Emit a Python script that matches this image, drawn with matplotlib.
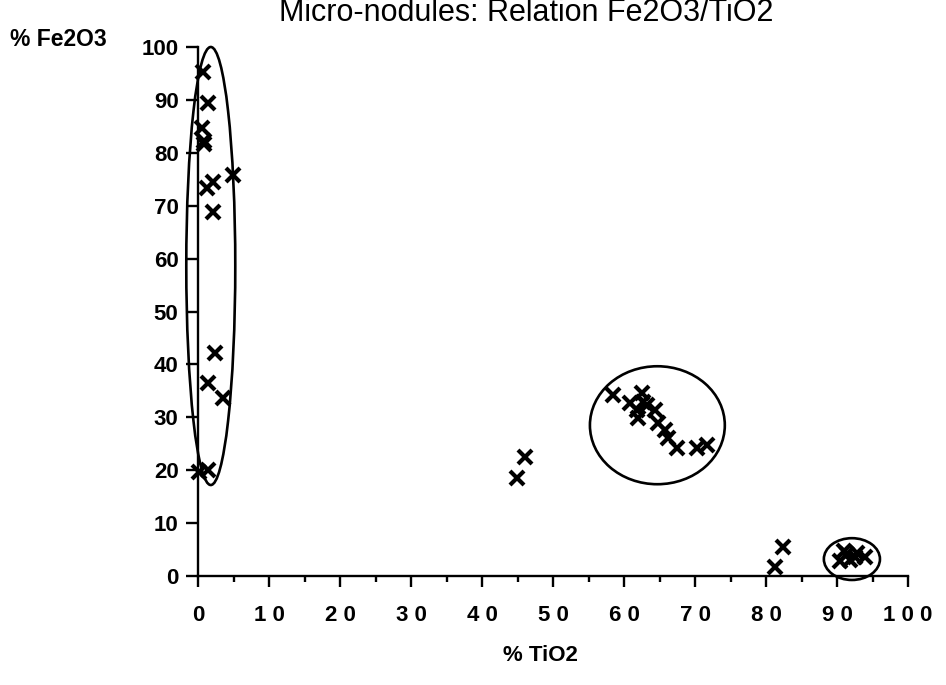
import matplotlib
matplotlib.use("Agg")
import matplotlib.pyplot as plt
from matplotlib.patches import Ellipse
from matplotlib.ticker import MultipleLocator, FixedLocator

plt.rcParams['font.family'] = ['Liberation Sans', 'DejaVu Sans']

# Fe-rich group (low TiO2)
fe_tio2 = [0.7, 1.4, 0.6, 0.9, 0.8, 2.1, 1.2, 4.9, 2.1, 2.4, 1.4, 3.5, 0.1, 1.4]
fe_fe2o3 = [95.3, 89.4, 84.7, 82.3, 81.6, 74.5, 73.3, 75.8, 68.8, 42.2, 36.5, 33.6, 19.7, 20.0]

# Intermediate group
mid_tio2 = [58.5, 60.8, 61.8, 62.0, 62.5, 62.7, 63.2, 64.4, 64.8, 65.8, 66.2, 67.5, 70.3, 71.7]
mid_fe2o3 = [34.2, 32.7, 31.4, 29.9, 34.6, 32.9, 32.3, 31.4, 28.9, 27.6, 26.1, 24.2, 24.2, 24.8]

# Ti-rich group
ti_tio2 = [90.4, 91.0, 91.4, 91.8, 92.5, 92.8, 94.0]
ti_fe2o3 = [2.8, 4.8, 4.2, 3.1, 3.6, 4.4, 3.5]

# Isolated analyses
iso_tio2 = [44.9, 46.1, 81.3, 82.4]
iso_fe2o3 = [18.5, 22.5, 1.7, 5.5]

x_ticks = [0, 10, 20, 30, 40, 50, 60, 70, 80, 90, 100]
x_tick_labels = ['0', '1 0', '2 0', '3 0', '4 0', '5 0', '6 0', '7 0', '8 0', '9 0', '1 0 0']
y_ticks = [0, 10, 20, 30, 40, 50, 60, 70, 80, 90, 100]

fig = plt.figure(figsize=(9.46, 6.85), dpi=100)
ax = fig.add_axes([198 / 946, 1 - 576 / 685, 710 / 946, 529 / 685])

mk = dict(marker='x', linestyle='none', color='black', markersize=10,
          markeredgewidth=3.0, clip_on=False, zorder=3)
for xs, ys in [(fe_tio2, fe_fe2o3), (mid_tio2, mid_fe2o3),
               (ti_tio2, ti_fe2o3), (iso_tio2, iso_fe2o3)]:
    ax.plot(xs, ys, **mk)

# Group outlines
for (cx, cy), w, h in [((1.8, 58.6), 6.9, 82.8),
                       ((64.7, 28.5), 19.0, 22.3),
                       ((92.1, 3.2), 7.9, 7.9)]:
    ax.add_patch(Ellipse((cx, cy), w, h, fill=False, edgecolor='black',
                         linewidth=1.9, clip_on=False, zorder=2))

ax.set_xlim(0, 100)
ax.set_ylim(0, 100)
for s in ['top', 'right']:
    ax.spines[s].set_visible(False)
for s in ['left', 'bottom']:
    ax.spines[s].set_linewidth(1.7)

ax.xaxis.set_major_locator(FixedLocator(x_ticks))
ax.set_xticklabels(x_tick_labels)
ax.xaxis.set_minor_locator(MultipleLocator(5))
ax.yaxis.set_major_locator(FixedLocator(y_ticks))
ax.tick_params(axis='x', which='major', direction='out', length=8, width=1.7,
               pad=13, labelsize=16)
ax.tick_params(axis='x', which='minor', direction='out', length=4, width=1.7)
ax.tick_params(axis='y', which='major', direction='out', length=9, width=1.7,
               pad=5, labelsize=16)
for lab in ax.get_xticklabels() + ax.get_yticklabels():
    lab.set_fontweight('bold')

fig.text(526 / 946, 1 - 21 / 685, 'Micro-nodules: Relation Fe2O3/TiO2',
         ha='center', va='baseline', fontsize=22)
fig.text(10 / 946, 1 - 46 / 685, '% Fe2O3', ha='left', va='baseline',
         fontsize=16.5, fontweight='bold')
fig.text(540 / 946, 1 - 661 / 685, '% TiO2', ha='center', va='baseline',
         fontsize=16, fontweight='bold')

fig.savefig('out.png', dpi=100)
